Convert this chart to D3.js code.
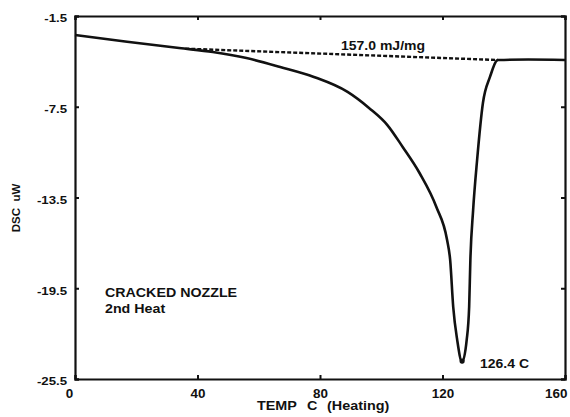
<!DOCTYPE html>
<html><head><meta charset="utf-8">
<script src="https://cdn.jsdelivr.net/npm/d3@7"></script>
<style>
body{margin:0;background:#fff;}
text{font-family:"Liberation Sans",Arial,sans-serif;font-weight:bold;fill:#111;}
</style></head>
<body><svg id="c" width="570" height="417"></svg>
<script>
// ---- data ----
const temp = [0, 17, 34, 45, 56, 67, 78, 89, 96, 102, 107, 112.5, 118, 121.5, 122.5, 123.5, 124.8, 126.4, 127.9, 128.7, 129.1, 130.0, 131.3, 133.2, 135.5, 138.1, 148, 160];
const dsc  = [-2.76, -3.2, -3.62, -3.88, -4.28, -4.87, -5.53, -6.52, -7.58, -8.71, -10.16, -11.88, -14.13, -16.31, -17.63, -20.74, -22.92, -24.38, -22.92, -20.74, -17.63, -14.33, -11.02, -7.25, -5.53, -4.41, -4.38, -4.41];
const baseTemp = [36, 138.1];
const baseDsc  = [-3.66, -4.41];
const xTicks = [0, 40, 80, 120, 160];
const yTicks = [-1.5, -7.5, -13.5, -19.5, -25.5];
const xTickLabels = ["0", "40", "80", "120", "160"];
const yTickLabels = ["-1.5", "-7.5", "-13.5", "-19.5", "-25.5"];
const enthalpyLabel = "157.0 mJ/mg";
const peakTemp = 126.4, peakDsc = -24.38;
const peakLabel = "126.4 C";
const sampleLabel = ["CRACKED NOZZLE", "2nd Heat"];
const xTitle = ["TEMP", "C", "(Heating)"];
const yTitle = "DSC  uW";

// ---- layout ----
const L = 75, R = 565, T = 16, B = 379;
const svg = d3.select("#c");
const x = d3.scaleLinear().domain([0, 160]).range([L, R]);
const y = d3.scaleLinear().domain([-25.5, -1.5]).range([B, T]);

function label(txt, px, py, size, sx, anchor) {
  return svg.append("text")
    .attr("transform", `translate(${px},${py}) scale(${sx},1)`)
    .attr("text-anchor", anchor || "start")
    .style("font-size", size + "px")
    .text(txt);
}

// axes (all four sides, inward ticks)
const xs = 1.12;
const ax = svg.append("g").attr("transform", `translate(0,${B})`)
  .call(d3.axisBottom(x).tickValues(xTicks).tickSize(-4).tickFormat((d, i) => xTickLabels[i]));
ax.selectAll("text").attr("y", 10).attr("dy", "0.71em")
  .style("font-size", "12px").attr("transform", `scale(${xs},1)`)
  .attr("text-anchor", (d, i) => i === xTicks.length - 1 ? "end" : "middle")
  .attr("x", (d, i) => i === 0 ? -6 / xs : (i === xTicks.length - 1 ? 2 / xs : 0));
const ys = 1.15;
const ay = svg.append("g").attr("transform", `translate(${L},0)`)
  .call(d3.axisLeft(y).tickValues(yTicks).tickSize(-4).tickFormat((d, i) => yTickLabels[i]));
ay.selectAll("text").attr("x", -8 / ys).attr("dy", "0.5em")
  .style("font-size", "11.5px").attr("transform", `scale(${ys},1)`);
svg.append("g").attr("transform", `translate(0,${T})`)
  .call(d3.axisTop(x).tickValues(xTicks).tickSize(-4).tickFormat(""));
svg.append("g").attr("transform", `translate(${R},0)`)
  .call(d3.axisRight(y).tickValues(yTicks).tickSize(-4).tickFormat(""));
svg.selectAll(".domain").attr("stroke", "#111").attr("stroke-width", 2.2);
svg.selectAll(".tick line").attr("stroke", "#111").attr("stroke-width", 2);

// curve
const pts = temp.map((t, i) => [t, dsc[i]]);
svg.append("path").datum(pts)
  .attr("d", d3.line().x(d => x(d[0])).y(d => y(d[1])).curve(d3.curveMonotoneX))
  .attr("fill", "none").attr("stroke", "#111").attr("stroke-width", 2.6)
  .attr("stroke-linejoin", "round");
// baseline
const bpts = baseTemp.map((t, i) => [t, baseDsc[i]]);
svg.append("path").datum(bpts)
  .attr("d", d3.line().x(d => x(d[0])).y(d => y(d[1])))
  .attr("fill", "none").attr("stroke", "#111").attr("stroke-width", 2.4)
  .attr("stroke-dasharray", "4,2");
svg.append("circle").attr("cx", x(peakTemp)).attr("cy", y(peakDsc) - 1).attr("r", 2.6).attr("fill", "#111");

// texts
label(enthalpyLabel, 341, 50, 12.5, 1.12);
label(peakLabel, 480, 368, 12.5, 1.12);
label(sampleLabel[0], 105, 297, 12.5, 1.14);
label(sampleLabel[1], 105, 313, 12.5, 1.14);
label(xTitle[0], 257, 410, 12.5, 1.15);
label(xTitle[1], 307, 410, 12.5, 1.15);
label(xTitle[2], 327, 410, 12.5, 1.15);
svg.append("text").attr("transform", "translate(20,208) rotate(-90)")
  .attr("text-anchor", "middle").style("font-size", "11.5px").style("white-space", "pre").text(yTitle);
</script></body></html>
